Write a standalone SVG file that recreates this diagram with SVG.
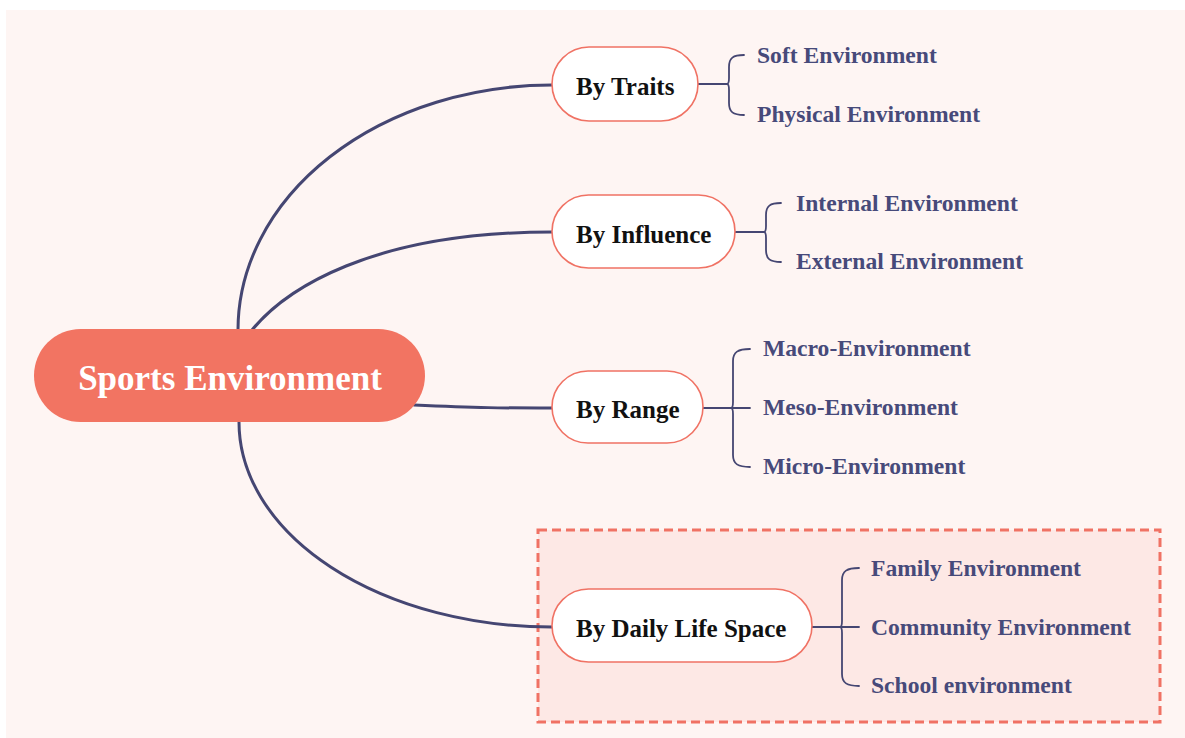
<svg xmlns="http://www.w3.org/2000/svg" width="1185" height="738" viewBox="0 0 1185 738">
  <style>
    .bg { fill: #fef5f3; }
    .group-box { fill: #fde8e5; stroke: #f07264; stroke-width: 3; stroke-dasharray: 9 5; }
    .root { fill: #f27462; }
    .root-text { font-family: "Liberation Serif", "Times New Roman", serif; font-weight: bold; font-size: 35px; fill: #ffffff; }
    .branch { fill: #ffffff; stroke: #f07264; stroke-width: 1.6; }
    .branch-text { font-family: "Liberation Serif", "Times New Roman", serif; font-weight: bold; font-size: 25px; fill: #111111; }
    .leaf-text { font-family: "Liberation Serif", "Times New Roman", serif; font-weight: bold; font-size: 23.6px; fill: #474a7a; }
    .link { fill: none; stroke: #454672; stroke-width: 3; stroke-linecap: round; }
    .brace { fill: none; stroke: #454672; stroke-width: 1.8; stroke-linecap: round; stroke-linejoin: round; }
  </style>

  <!-- canvas -->
  <rect class="bg" x="6" y="10" width="1179" height="728"/>

  <!-- highlighted boundary around the daily-life branch -->
  <rect class="group-box" x="538" y="530" width="622" height="192"/>

  <!-- connectors -->
  <g id="connectors">
    <path class="link" d="M238,330 A314,245 0 0 1 552,85"/>
    <path class="link" d="M252,330 C285,290 370,232 552,232"/>
    <path class="link" d="M414,405 C480,408 500,408 552,408"/>
    <path class="link" d="M239,422 A313,205 0 0 0 552,627"/>

    <!-- By Traits brace -->
    <line class="brace" x1="698" y1="84" x2="727" y2="84"/>
    <path class="brace" d="M744,55 C733,55 729,58 729,67 L729,78 C729,82 728,84 727,84 C728,84 729,86 729,90 L729,103 C729,112 733,115 744,115"/>

    <!-- By Influence brace -->
    <line class="brace" x1="735" y1="232" x2="764" y2="232"/>
    <path class="brace" d="M781,203 C770,203 766,206 766,215 L766,226 C766,230 765,232 764,232 C765,232 766,234 766,238 L766,250 C766,259 770,262 781,262"/>

    <!-- By Range brace -->
    <line class="brace" x1="703" y1="408" x2="750" y2="408"/>
    <path class="brace" d="M750,349 C738,349 733,352 733,361 L733,402 C733,406 732,408 731,408 C732,408 733,410 733,414 L733,455 C733,464 738,467 750,467"/>

    <!-- By Daily Life Space brace -->
    <line class="brace" x1="812" y1="627" x2="859" y2="627"/>
    <path class="brace" d="M859,568 C847,568 842,571 842,580 L842,621 C842,625 841,627 840,627 C841,627 842,629 842,633 L842,674 C842,683 847,686 859,686"/>
  </g>

  <!-- root -->
  <g id="sports-environment">
    <rect class="root" x="34" y="329" width="391" height="93" rx="46.5"/>
    <text class="root-text" x="230" y="390" text-anchor="middle">Sports Environment</text>
  </g>

  <!-- branches -->
  <g id="by-traits">
    <rect class="branch" x="552" y="47" width="146" height="74" rx="37"/>
    <text class="branch-text" x="576" y="95">By Traits</text>
  </g>
  <g id="by-influence">
    <rect class="branch" x="552" y="195" width="183" height="73" rx="36.5"/>
    <text class="branch-text" x="576" y="243">By Influence</text>
  </g>
  <g id="by-range">
    <rect class="branch" x="552" y="371" width="151" height="72" rx="36"/>
    <text class="branch-text" x="576" y="418">By Range</text>
  </g>
  <g id="by-daily-life-space">
    <rect class="branch" x="552" y="589" width="260" height="73" rx="36.5"/>
    <text class="branch-text" x="576" y="637">By Daily Life Space</text>
  </g>

  <!-- leaves -->
  <g id="soft-environment"><text class="leaf-text" x="757" y="63">Soft Environment</text></g>
  <g id="physical-environment"><text class="leaf-text" x="757" y="122">Physical Environment</text></g>
  <g id="internal-environment"><text class="leaf-text" x="796" y="211">Internal Environment</text></g>
  <g id="external-environment"><text class="leaf-text" x="796" y="269">External Environment</text></g>
  <g id="macro-environment"><text class="leaf-text" x="763" y="356">Macro-Environment</text></g>
  <g id="meso-environment"><text class="leaf-text" x="763" y="415">Meso-Environment</text></g>
  <g id="micro-environment"><text class="leaf-text" x="763" y="474">Micro-Environment</text></g>
  <g id="family-environment"><text class="leaf-text" x="871" y="576">Family Environment</text></g>
  <g id="community-environment"><text class="leaf-text" x="871" y="635">Community Environment</text></g>
  <g id="school-environment"><text class="leaf-text" x="871" y="693">School environment</text></g>
</svg>
